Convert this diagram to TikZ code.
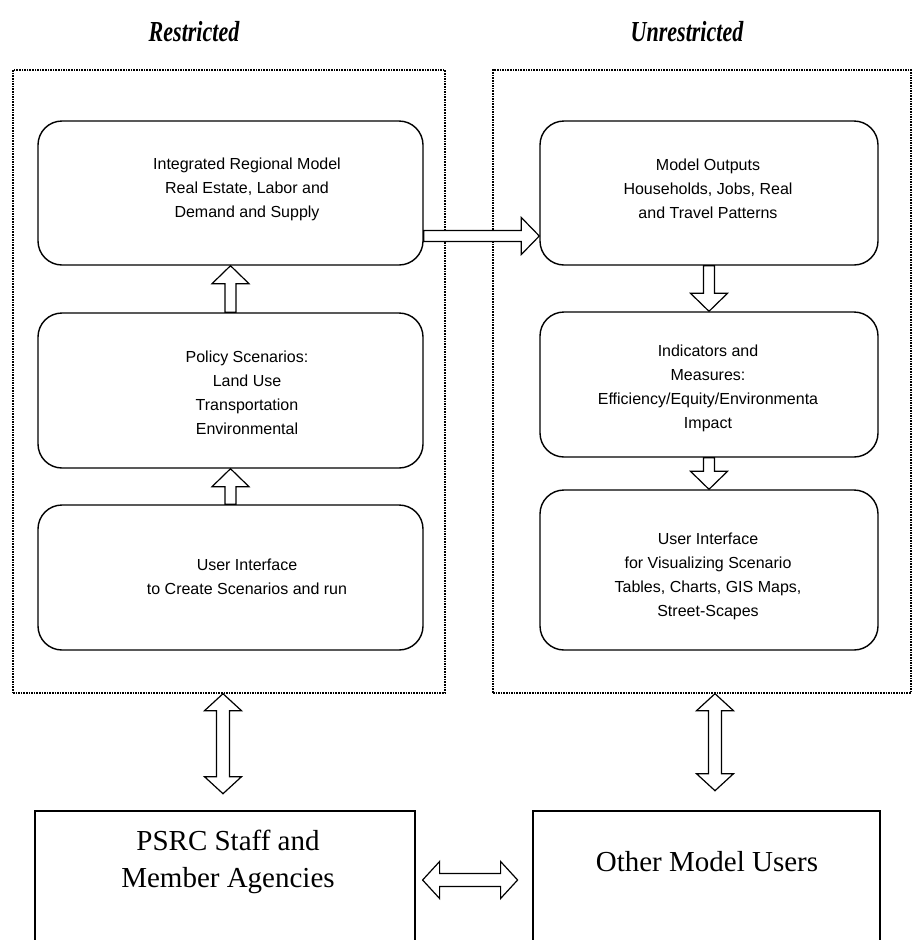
\documentclass[tikz,border=0pt]{standalone}
\usepackage{fontspec}
\usepackage{graphicx}
\setmainfont{Liberation Serif}
\setsansfont{Liberation Sans}
\usetikzlibrary{calc}
\tikzset{
  rbox/.style={draw, line width=1.4pt, rounded corners=24pt, inner sep=0pt},
  frame/.style={draw, line width=1.4pt, dash pattern=on 1.6pt off 1.0pt, inner sep=0pt},
  sqbox/.style={draw, line width=1.2pt, inner sep=0pt},
  btext/.style={align=center, font=\sffamily\fontsize{16}{24}\selectfont, inner sep=0pt},
  ltext/.style={align=center, font=\rmfamily\fontsize{29}{37}\selectfont, inner sep=0pt},
  ttext/.style={font=\rmfamily\bfseries\itshape\fontsize{29}{30}\selectfont, inner sep=0pt},
  blk/.style={draw, line width=1.2pt, fill=white, line join=miter},
}
\newcommand{\sarrow}[2]{%
  \coordinate (hb) at ($(#2)!18pt!(#1)$);
  \draw[blk] ($(#1)!5.5pt!90:(#2)$) -- ($(hb)!5.5pt!90:(#2)$) -- ($(hb)!18.5pt!90:(#2)$) -- (#2)
    -- ($(hb)!18.5pt!-90:(#2)$) -- ($(hb)!5.5pt!-90:(#2)$) -- ($(#1)!5.5pt!-90:(#2)$) -- cycle;}
\newcommand{\darrow}[2]{%
  \coordinate (ha) at ($(#1)!17pt!(#2)$);
  \coordinate (hb) at ($(#2)!17pt!(#1)$);
  \draw[blk] (#1) -- ($(ha)!18.5pt!90:(#2)$) -- ($(ha)!6.5pt!90:(#2)$) -- ($(hb)!6.5pt!90:(#2)$)
    -- ($(hb)!18.5pt!90:(#2)$) -- (#2) -- ($(hb)!18.5pt!-90:(#2)$) -- ($(hb)!6.5pt!-90:(#2)$)
    -- ($(ha)!6.5pt!-90:(#2)$) -- ($(ha)!18.5pt!-90:(#2)$) -- cycle;}
\begin{document}
\begin{tikzpicture}[x=1pt,y=-1pt]
\clip (0,0) rectangle (914,940);
\fill[white] (0,0) rectangle (914,940);

% titles
\node[ttext] (rt) at (194,32) {\scalebox{0.76}[1]{Restricted}};
\node[ttext] (ut) at (687,32) {\scalebox{0.76}[1]{Unrestricted}};

% dotted frames
\node[frame, minimum width=432pt, minimum height=623pt] (lframe) at (229,381.5) {};
\node[frame, minimum width=418pt, minimum height=623pt] (rframe) at (702,381.5) {};

% left column
\node[rbox, minimum width=385pt, minimum height=144pt] (irm) at (230.5,193) {};
\node[btext] (irmt) at (247,189) {Integrated Regional Model\\Real Estate, Labor and\\Demand and Supply};
\node[rbox, minimum width=385pt, minimum height=155pt] (pol) at (230.5,390.5) {};
\node[btext] (polt) at (247,393) {Policy Scenarios:\\Land Use\\Transportation\\Environmental};
\node[rbox, minimum width=385pt, minimum height=145pt] (uil) at (230.5,577.5) {};
\node[btext] (uilt) at (247,577) {User Interface\\to Create Scenarios and run};

% right column
\node[rbox, minimum width=338pt, minimum height=144pt] (mo) at (709,193) {};
\node[btext] (mot) at (708,189) {Model Outputs\\Households, Jobs, Real\\and Travel Patterns};
\node[rbox, minimum width=338pt, minimum height=145pt] (ind) at (709,384.5) {};
\node[btext] (indt) at (708,388) {Indicators and\\Measures:\\Efficiency/Equity/Environmenta\\Impact};
\node[rbox, minimum width=338pt, minimum height=160pt] (uir) at (709,570) {};
\node[btext] (uirt) at (708,576) {User Interface\\for Visualizing Scenario\\Tables, Charts, GIS Maps,\\Street-Scapes};

% bottom boxes (open below the picture's edge)
\node[sqbox, minimum width=380pt, minimum height=160pt] (psrc) at (225,891) {};
\node[ltext] (psrct) at (228,862) {PSRC Staff and\\Member Agencies};
\node[sqbox, minimum width=347pt, minimum height=160pt] (oth) at (706.5,891) {};
\node[ltext] (otht) at (707,862) {Other Model Users};

% arrows
\sarrow{pol.north}{irm.south}
\sarrow{uil.north}{pol.south}
\sarrow{mo.south}{ind.north}
\sarrow{ind.south}{uir.north}
\coordinate (h1) at ($(irm.east)+(0,43)$);
\coordinate (h2) at (h1 -| mo.west);
\sarrow{h1}{h2}
\coordinate (d1) at ($(lframe.south)+(-6,0)$);
\coordinate (d2) at ($(d1)+(0,100)$);
\darrow{d1}{d2}
\coordinate (d3) at ($(rframe.south)+(13,0)$);
\coordinate (d4) at ($(d3)+(0,97)$);
\darrow{d3}{d4}
\coordinate (e0) at (psrc.east |- 0,880);
\coordinate (e1) at ($(e0)+(7,0)$);
\coordinate (e2) at ($(e1)+(95,0)$);
\darrow{e1}{e2}
\end{tikzpicture}
\end{document}
